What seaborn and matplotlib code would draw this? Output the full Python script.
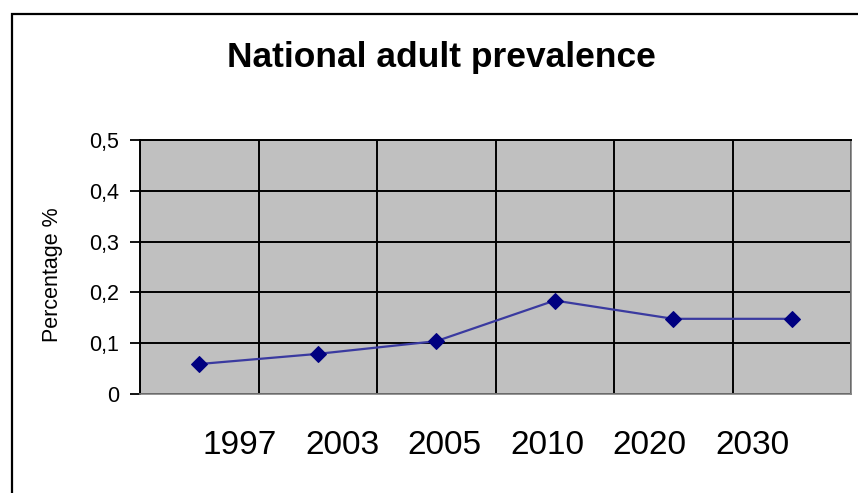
import numpy as np
import pandas as pd
import seaborn as sns
import matplotlib.pyplot as plt
from matplotlib.patches import Rectangle
from matplotlib.ticker import FuncFormatter

years = ['1997', '2003', '2005', '2010', '2020', '2030']
prevalence = [0.059, 0.079, 0.104, 0.184, 0.148, 0.148]
y_ticks = [0, 0.1, 0.2, 0.3, 0.4, 0.5]

sns.set_style("white")
plt.rcParams['font.family'] = ['Liberation Sans', 'DejaVu Sans']
plt.rcParams['text.color'] = 'black'
plt.rcParams['xtick.color'] = 'black'
plt.rcParams['ytick.color'] = 'black'
plt.rcParams['axes.labelcolor'] = 'black'

df = pd.DataFrame({'year': years, 'value': prevalence})
df['pos'] = np.arange(len(df))

fig = plt.figure(figsize=(8.58, 4.93), dpi=100)
ax = fig.add_axes([140 / 858, 1 - 394 / 493, 711 / 858, 254 / 493])
ax.set_facecolor('#C0C0C0')

sns.lineplot(data=df, x='pos', y='value', ax=ax, color='#3A3AA0', linewidth=1.6,
             marker='D', markersize=8, markerfacecolor='#000080',
             markeredgecolor='#000080', zorder=5)

ax.set_xlim(-0.5, len(years) - 0.5)
ax.set_ylim(0, 0.5)

# category boundaries as vertical grid
ax.set_xticks(np.arange(-0.5, len(years), 1))
ax.set_xticklabels([])
ax.tick_params(axis='x', length=0)
ax.set_yticks(y_ticks)
ax.yaxis.set_major_formatter(FuncFormatter(lambda v, p: '0' if v == 0 else f'{v:.1f}'.replace('.', ',')))
ax.tick_params(axis='y', length=7, width=1.3, color='black', direction='out',
               pad=8, labelsize=15.5, left=True)
ax.grid(True, color='black', linewidth=1.4)
ax.set_axisbelow(True)

for side in ['right', 'bottom']:
    ax.spines[side].set_color('#808080')
    ax.spines[side].set_linewidth(1.2)
ax.spines['top'].set_color('black')
ax.spines['top'].set_linewidth(1.4)
ax.spines['left'].set_color('black')
ax.spines['left'].set_linewidth(1.4)

ax.set_xlabel('')
ax.set_ylabel('Percentage %', fontsize=15.5)
ax.yaxis.set_label_coords(-0.108, 0.47)

# year labels, spaced as in the original
ax2 = ax.twiny()
ax2.xaxis.set_ticks_position('bottom')
ax2.set_xlim(-0.977, 5.967)
ax2.set_xticks(np.arange(len(years)))
ax2.set_xticklabels(years, fontsize=24)
ax2.tick_params(axis='x', length=0, pad=26)
for s in ax2.spines.values():
    s.set_visible(False)

fig.text(441 / 858, 1 - 57 / 493, 'National adult prevalence', ha='center', va='center',
         fontsize=25.5, fontweight='bold')

fig.patches.append(Rectangle((12 / 858, -0.1), 1.2, 1.1 - 14 / 493, transform=fig.transFigure,
                             fill=False, edgecolor='black', linewidth=1.6))

fig.savefig('out.png', dpi=100)
